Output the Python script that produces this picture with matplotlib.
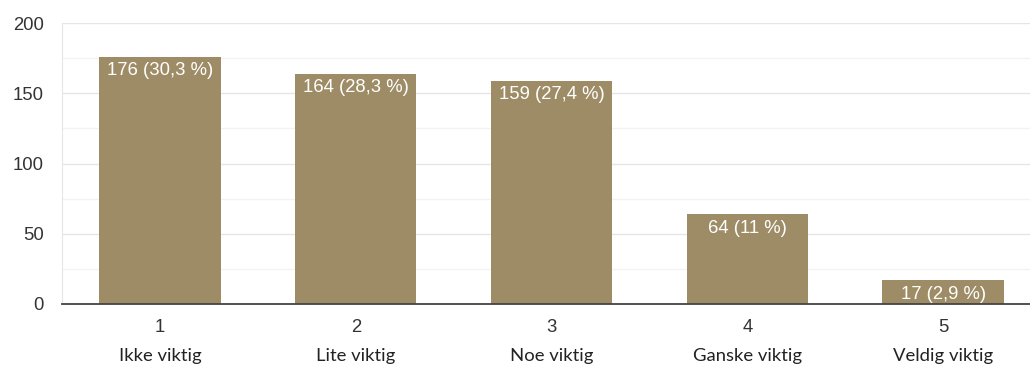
import matplotlib
matplotlib.use("Agg")
import matplotlib.pyplot as plt
from matplotlib.ticker import MultipleLocator
from matplotlib.transforms import blended_transform_factory

categories = ["1", "2", "3", "4", "5"]
category_names = ["Ikke viktig", "Lite viktig", "Noe viktig", "Ganske viktig", "Veldig viktig"]
counts = [176, 164, 159, 64, 17]
percent_labels = ["30,3 %", "28,3 %", "27,4 %", "11 %", "2,9 %"]

bar_color = "#9e8c66"

fig = plt.figure(figsize=(10.30, 3.65), dpi=100)
ax = fig.add_axes([62 / 1030, 1 - 304 / 365, (1041 - 62) / 1030, (304 - 23) / 365])

x = list(range(len(categories)))
bars = ax.bar(x, counts, width=0.62, color=bar_color, zorder=2)

ax.set_xlim(-0.5, len(categories) - 0.5)
ax.set_ylim(0, 200)
ax.yaxis.set_major_locator(MultipleLocator(50))
ax.yaxis.set_minor_locator(MultipleLocator(25))
ax.grid(axis="y", which="major", color="#e6e6e6", linewidth=1.0, zorder=0)
ax.grid(axis="y", which="minor", color="#f3f3f3", linewidth=1.0, zorder=0)

for s in ["top", "right"]:
    ax.spines[s].set_visible(False)
ax.spines["left"].set_color("#e6e6e6")
ax.spines["bottom"].set_color("#444444")
ax.spines["bottom"].set_linewidth(1.3)
ax.spines["bottom"].set_zorder(3)

ax.tick_params(axis="y", which="both", length=0, pad=13, labelsize=13.3,
               labelcolor="#333333")
for lbl in ax.get_yticklabels():
    lbl.set_fontfamily("Liberation Sans")
ax.set_xticks([])

trans = blended_transform_factory(ax.transData, ax.transAxes)
for xi, cat, name in zip(x, categories, category_names):
    ax.text(xi, -0.055, cat, transform=trans, ha="center", va="top",
            fontsize=13.3, family="Liberation Sans", color="#333333")
    ax.text(xi, -0.155, name, transform=trans, ha="center", va="top",
            fontsize=13.3, family="Lato", color="#222222")

for xi, c, p in zip(x, counts, percent_labels):
    ax.annotate(f"{c} ({p})", xy=(xi, c), xytext=(0, -4),
                textcoords="offset points", ha="center", va="top",
                fontsize=13.3, family="Liberation Sans", color="white", zorder=4)

fig.savefig("out.png", dpi=100)
